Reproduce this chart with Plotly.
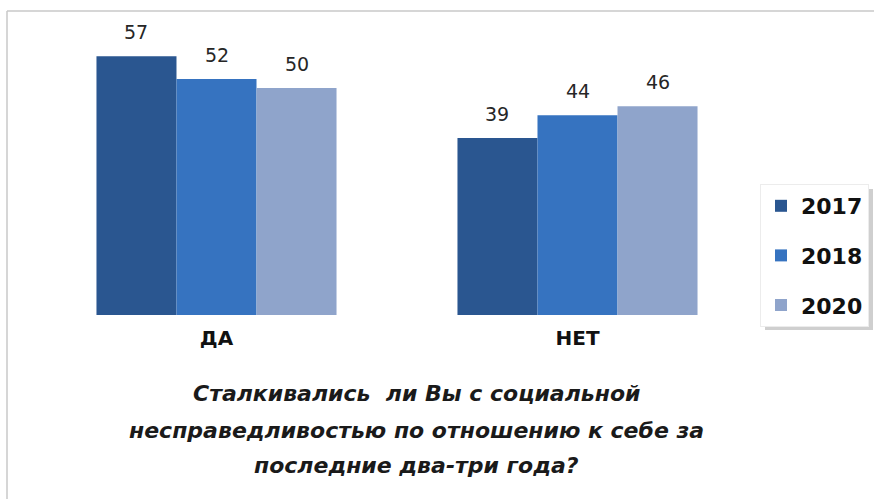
import plotly.graph_objects as go

categories = ["ДА", "НЕТ"]
series_names = ["2017", "2018", "2020"]
values_2017 = [57, 39]
values_2018 = [52, 44]
values_2020 = [50, 46]
title_lines = [
    "Сталкивались  ли Вы с социальной",
    "несправедливостью по отношению к себе за",
    "последние два-три года?",
]

series_values = [values_2017, values_2018, values_2020]
colors = ["#2A5690", "#3673C0", "#8FA4CB"]

W, H = 874, 499
ML, MR, MT, MB = 36, 116, 20, 184
BARGAP = 0.335
plotW = W - ML - MR
plotH = H - MT - MB
band = plotW / len(categories)
barw = band * (1 - BARGAP) / len(series_names)


def px_x(px):
    return (px - ML) / plotW


def px_y(py):
    return (H - MB - py) / plotH


fig = go.Figure()
for name, vals, col in zip(series_names, series_values, colors):
    fig.add_trace(go.Bar(
        x=categories, y=vals, name=name,
        marker=dict(color=col, line=dict(width=0)),
        legendgroup=name,
        hoverinfo="skip",
    ))

annotations = []
for i, vals in enumerate(series_values):
    for cat, v in zip(categories, vals):
        annotations.append(dict(
            x=cat, y=v, xref="x", yref="y",
            xshift=(i - 1) * barw, yshift=11,
            text=str(v), showarrow=False, yanchor="bottom",
            font=dict(family="DejaVu Sans", size=19, color="#262626"),
        ))

title_y = [393, 430, 465]
for line, yy in zip(title_lines, title_y):
    annotations.append(dict(
        x=px_x(416), y=px_y(yy), xref="paper", yref="paper",
        text="<b><i>" + line + "</i></b>", showarrow=False,
        xanchor="center", yanchor="middle",
        font=dict(family="DejaVu Sans", size=22, color="#1a1a1a"),
    ))

fig.update_layout(
    width=W, height=H,
    margin=dict(l=ML, r=MR, t=MT, b=MB, autoexpand=False),
    paper_bgcolor="white", plot_bgcolor="white",
    barmode="group", bargap=BARGAP, bargroupgap=0,
    xaxis=dict(showgrid=False, showline=False, zeroline=False,
               ticks="outside", ticklen=0, ticklabelstandoff=5,
               tickfont=dict(family="DejaVu Sans", size=20, color="#111111",
                             weight="bold")),
    yaxis=dict(range=[0, 65], visible=False),
    showlegend=True,
    legend=dict(
        xref="container", yref="container",
        x=760 / W, y=1 - 184 / H, xanchor="left", yanchor="top",
        bgcolor="white", bordercolor="#ececec", borderwidth=1,
        font=dict(family="DejaVu Sans", size=22, color="#111111", weight="bold"),
        tracegroupgap=18, itemwidth=30,
    ),
    annotations=annotations,
)

# legend drop shadow
fig.add_shape(type="rect", xref="paper", yref="paper", layer="below",
              x0=px_x(765), x1=px_x(873), y0=px_y(189), y1=px_y(330),
              fillcolor="#cfcfcf", line=dict(width=0))

# outer frame lines (top and left)
fig.add_shape(type="line", xref="paper", yref="paper",
              x0=px_x(7), x1=px_x(W), y0=px_y(11), y1=px_y(11),
              line=dict(color="#c8c8c8", width=1.5))
fig.add_shape(type="line", xref="paper", yref="paper",
              x0=px_x(7), x1=px_x(7), y0=px_y(11), y1=px_y(H),
              line=dict(color="#c8c8c8", width=1.5))

fig.write_html("out.html",
               config={"displayModeBar": False},
               post_script="document.body.style.margin='0px';")
